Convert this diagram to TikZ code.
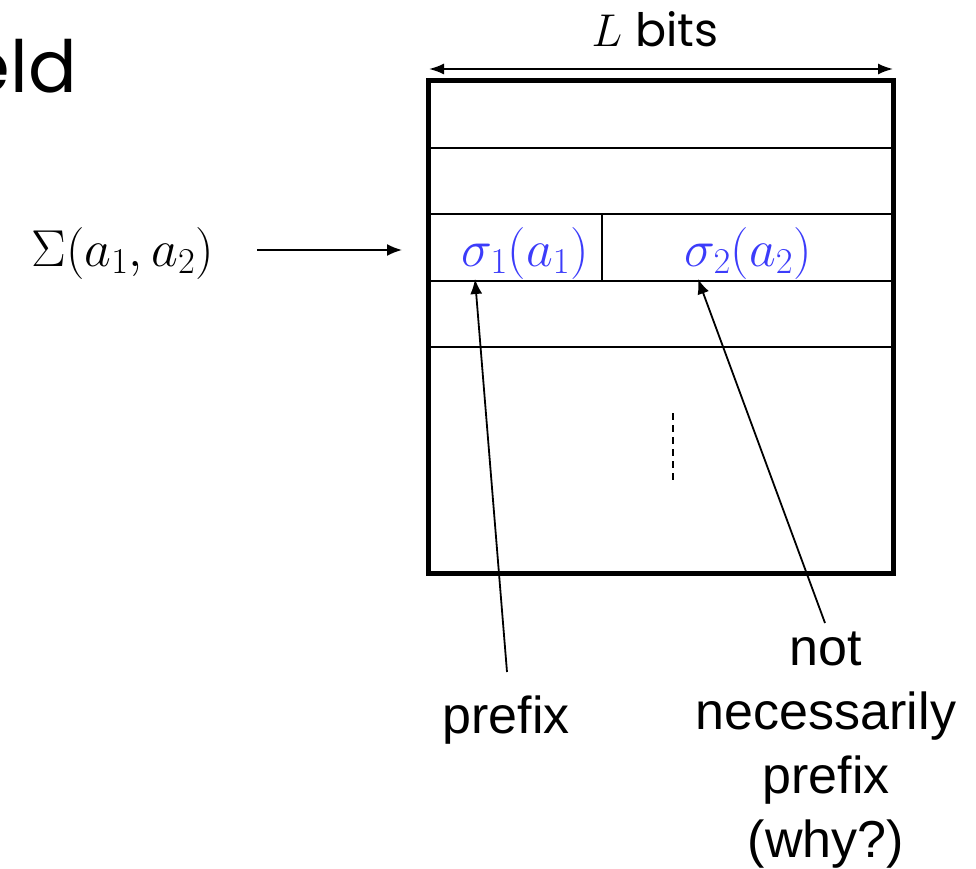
\RequirePackage{fix-cm}
\documentclass[tikz,border=0pt]{standalone}
\usepackage{fontspec}
\setmainfont{Liberation Sans}
\newfontfamily\gothic{Poppins}
\usetikzlibrary{arrows.meta}
\definecolor{mblue}{RGB}{60,60,250}
\begin{document}
\begin{tikzpicture}[x=1pt,y=-1pt,
  thickbox/.style={line width=5pt},
  rowline/.style={line width=2.2pt},
  conn/.style={line width=1.8pt,-{Latex[length=15pt,width=12pt]}},
  dconn/.style={line width=1.8pt,{Latex[length=15pt,width=11pt]}-{Latex[length=15pt,width=11pt]}},
  lbl/.style={font=\fontsize{52}{64}\selectfont, align=center, inner sep=0pt},
  mathlbl/.style={font=\fontsize{52}{62}\selectfont, inner sep=0pt},
]
\useasboundingbox (0,0) rectangle (976,869);
\clip (0,0) rectangle (976,869);

% title fragment
\node[anchor=base east, inner sep=0pt, font=\gothic\fontsize{72}{80}\selectfont] (title) at (77,93) {eld};

% L bits
\node[anchor=base, inner sep=0pt, font=\fontsize{46}{56}\selectfont] (lbits) at (655,47) {$L$ {\gothic bits}};
\coordinate (wl) at (429,69);
\coordinate (wr) at (893,69);
\draw[dconn] (wl) -- (wr);

% memory block
\draw[rowline] (428,148) -- (893,148);
\draw[rowline] (428,214) -- (893,214);
\draw[rowline] (428,281) -- (893,281);
\draw[rowline] (428,347) -- (893,347);
\draw[rowline] (602,214) -- (602,281);
\draw[thickbox] (428,81) rectangle (893,573);
\draw[line width=1.8pt, dash pattern=on 7pt off 5pt] (673,413) -- (673,480);

% entries
\node[mathlbl, anchor=base, text=mblue] (s1) at (525,266) {$\sigma_1(a_1)$};
\node[mathlbl, anchor=base, text=mblue] (s2) at (748,266) {$\sigma_2(a_2)$};
\node[mathlbl, anchor=base east] (sig) at (214,266) {$\Sigma(a_1,a_2)$};
\coordinate (rowin) at (402,250);
\coordinate (sigout) at (257,250);
\draw[conn] (sigout) -- (rowin);

% labels
\node[lbl, anchor=base] (pre) at (506,733) {prefix};
\node[lbl, anchor=base] (notpre) at (826,857) {not\\necessarily\\prefix\\(why?)};
\coordinate (t1) at (507,672);
\coordinate (h1) at (475,279);
\coordinate (t2) at (825,623);
\coordinate (h2) at (698,279);
\draw[conn] (t1) -- (h1);
\draw[conn] (t2) -- (h2);
\end{tikzpicture}
\end{document}
